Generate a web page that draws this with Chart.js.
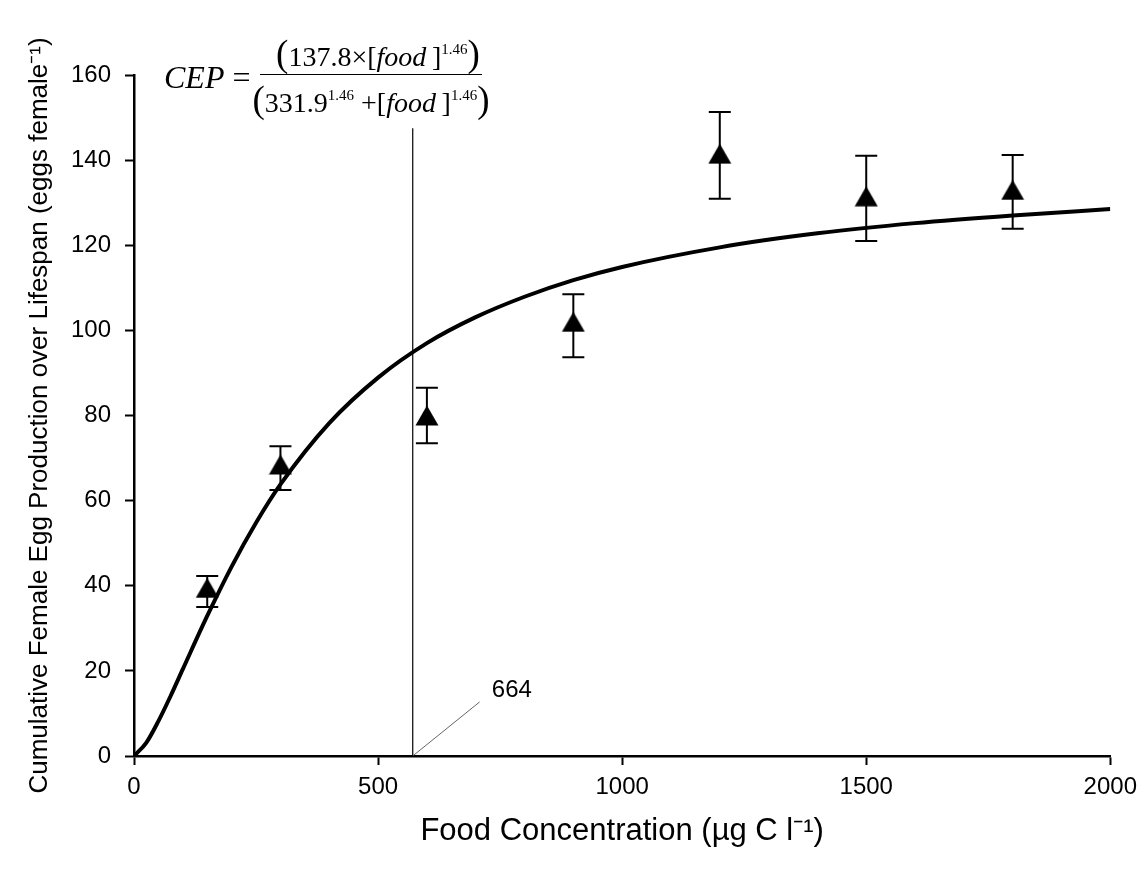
<!DOCTYPE html>
<html>
<head>
<meta charset="utf-8">
<script src="https://cdn.jsdelivr.net/npm/chart.js@4/dist/chart.umd.min.js"></script>
<style>
  body { margin: 0; background: #fff; }
  #wrap { position: relative; width: 1145px; height: 877px; }
  #eq {
    position: absolute; left: 164px; top: 32px;
    font-family: 'Liberation Serif', 'Times New Roman', serif;
    font-size: 28px; color: #000;
    display: flex; align-items: center; white-space: nowrap;
  }
  #eq .lhs { font-size: 32px; }
  #eq sup { font-size: 15px; vertical-align: 12px; }
  .frac { display: inline-flex; flex-direction: column; align-items: center; margin-left: 2px; }
  .frac .num { border-bottom: 1.5px solid #000; padding: 0 2px 0 16px; line-height: 34px; }
  .frac .den { line-height: 40px; }
  .big { font-size: 37px; }
</style>
</head>
<body>
<div id="wrap">
  <canvas id="chart" width="1145" height="877"></canvas>
  <div id="eq">
    <span class="lhs"><i>CEP</i> =</span>
    <span class="frac">
      <span class="num"><span class="big">(</span>137.8×[<i>food</i>&thinsp;]<sup>1.46</sup><span class="big">)</span></span>
      <span class="den"><span class="big">(</span>331.9<sup>1.46</sup> +[<i>food</i>&thinsp;]<sup>1.46</sup><span class="big">)</span></span>
    </span>
  </div>
</div>
<script>
// --- DATA ---
const foodLevels = [150, 300, 600, 900, 1200, 1500, 1800];
const eggMeans   = [39.5, 68.5, 80, 102, 141.5, 131.5, 133];
const errUpper   = [42.3, 72.8, 86.5, 108.5, 151.3, 141, 141.2];
const errLower   = [35, 62.5, 73.5, 93.7, 130.9, 121, 123.9];

// fitted curve
const fitX = [0, 25, 50, 75, 100, 150, 200, 250, 300, 400, 500, 600, 700, 800, 900, 1000, 1200, 1400, 1600, 1800, 2000];
const fitY = [0, 3.1, 8.2, 14.1, 20.4, 32.9, 44.5, 54.8, 63.8, 78.2, 88.9, 97.0, 103.1, 107.9, 111.8, 114.9, 119.5, 122.8, 125.2, 127.0, 128.5];

// vertical marker and its label
const markerX = [571, 571];
const markerY = [0, 147.5];
const leaderX = [571, 708];
const leaderY = [0, 12.7];
const markerLabel = '664';

const xTicks = [0, 500, 1000, 1500, 2000];
const yTicks = [0, 20, 40, 60, 80, 100, 120, 140, 160];

const pts = (xs, ys) => xs.map((x, i) => ({ x: x, y: ys[i] }));

// triangle marker with its box centred on the point (like the original)
const tri = document.createElement('canvas');
tri.width = 24; tri.height = 21;
(function () {
    const c = tri.getContext('2d');
    c.fillStyle = '#000';
    c.beginPath();
    c.moveTo(12, 0.5);
    c.lineTo(23.5, 20.5);
    c.lineTo(0.5, 20.5);
    c.closePath();
    c.fill();
})();

// --- PLUGINS ---
const errorBars = {
    id: 'errorBars',
    beforeDatasetsDraw(chart) {
        const { ctx, scales: { x, y } } = chart;
        ctx.save();
        ctx.strokeStyle = '#000';
        ctx.lineWidth = 2;
        foodLevels.forEach((f, i) => {
            const px = x.getPixelForValue(f);
            const top = y.getPixelForValue(errUpper[i]);
            const bot = y.getPixelForValue(errLower[i]);
            ctx.beginPath();
            ctx.moveTo(px, top); ctx.lineTo(px, bot);
            ctx.moveTo(px - 11, top); ctx.lineTo(px + 11, top);
            ctx.moveTo(px - 11, bot); ctx.lineTo(px + 11, bot);
            ctx.stroke();
        });
        ctx.restore();
    }
};

const labelPlugin = {
    id: 'markerLabel',
    afterDatasetsDraw(chart) {
        const { ctx, scales: { x, y } } = chart;
        ctx.save();
        ctx.fillStyle = '#000';
        ctx.font = '24px "Liberation Sans", Arial, sans-serif';
        ctx.textBaseline = 'middle';
        ctx.fillText(markerLabel, x.getPixelForValue(733), y.getPixelForValue(15.5));
        ctx.restore();
    }
};

const fontFamily = '"Liberation Sans", Arial, sans-serif';
const tickFont = { family: fontFamily, size: 24 };

new Chart(document.getElementById('chart').getContext('2d'), {
    type: 'scatter',
    data: {
        datasets: [
            {
                type: 'line',
                data: pts(fitX, fitY),
                borderColor: '#000',
                borderWidth: 4,
                pointRadius: 0,
                cubicInterpolationMode: 'monotone',
                fill: false
            },
            {
                type: 'line',
                data: pts(markerX, markerY),
                borderColor: '#000',
                borderWidth: 1.2,
                pointRadius: 0
            },
            {
                type: 'line',
                data: pts(leaderX, leaderY),
                borderColor: '#666',
                borderWidth: 1,
                pointRadius: 0
            },
            {
                data: pts(foodLevels, eggMeans),
                pointStyle: tri,
                pointRadius: 12,
                backgroundColor: '#000',
                borderColor: '#000'
            }
        ]
    },
    options: {
        responsive: false,
        animation: false,
        layout: { padding: { left: 20, top: 75, right: 34, bottom: 23 } },
        plugins: { legend: { display: false }, tooltip: { enabled: false } },
        scales: {
            x: {
                type: 'linear', min: 0, max: 2000,
                afterBuildTicks: s => { s.ticks = xTicks.map(v => ({ value: v })); },
                afterFit: s => { s.height = 98; },
                ticks: { color: '#000', font: tickFont, padding: 8, maxRotation: 0, callback: v => String(v) },
                grid: { drawOnChartArea: false, drawTicks: true, tickLength: 9, tickWidth: 2, tickColor: '#000' },
                border: { color: '#000', width: 2.5 },
                title: {
                    display: true, text: 'Food Concentration (µg C l⁻¹)',
                    color: '#000', font: { family: fontFamily, size: 31 }, padding: { top: 4, bottom: 4 }
                }
            },
            y: {
                type: 'linear', min: 0, max: 160,
                afterBuildTicks: s => { s.ticks = yTicks.map(v => ({ value: v })); },
                afterFit: s => { s.width = 114; },
                ticks: { color: '#000', font: tickFont, padding: 14, callback: v => String(v) },
                grid: { drawOnChartArea: false, drawTicks: true, tickLength: 9, tickWidth: 2, tickColor: '#000' },
                border: { color: '#000', width: 2.5 },
                title: {
                    display: true, text: 'Cumulative Female Egg Production over Lifespan (eggs female⁻¹)',
                    color: '#000', font: { family: fontFamily, size: 26 }, padding: { top: 4, bottom: 4 }
                }
            }
        }
    },
    plugins: [errorBars, labelPlugin]
});
</script>
</body>
</html>
